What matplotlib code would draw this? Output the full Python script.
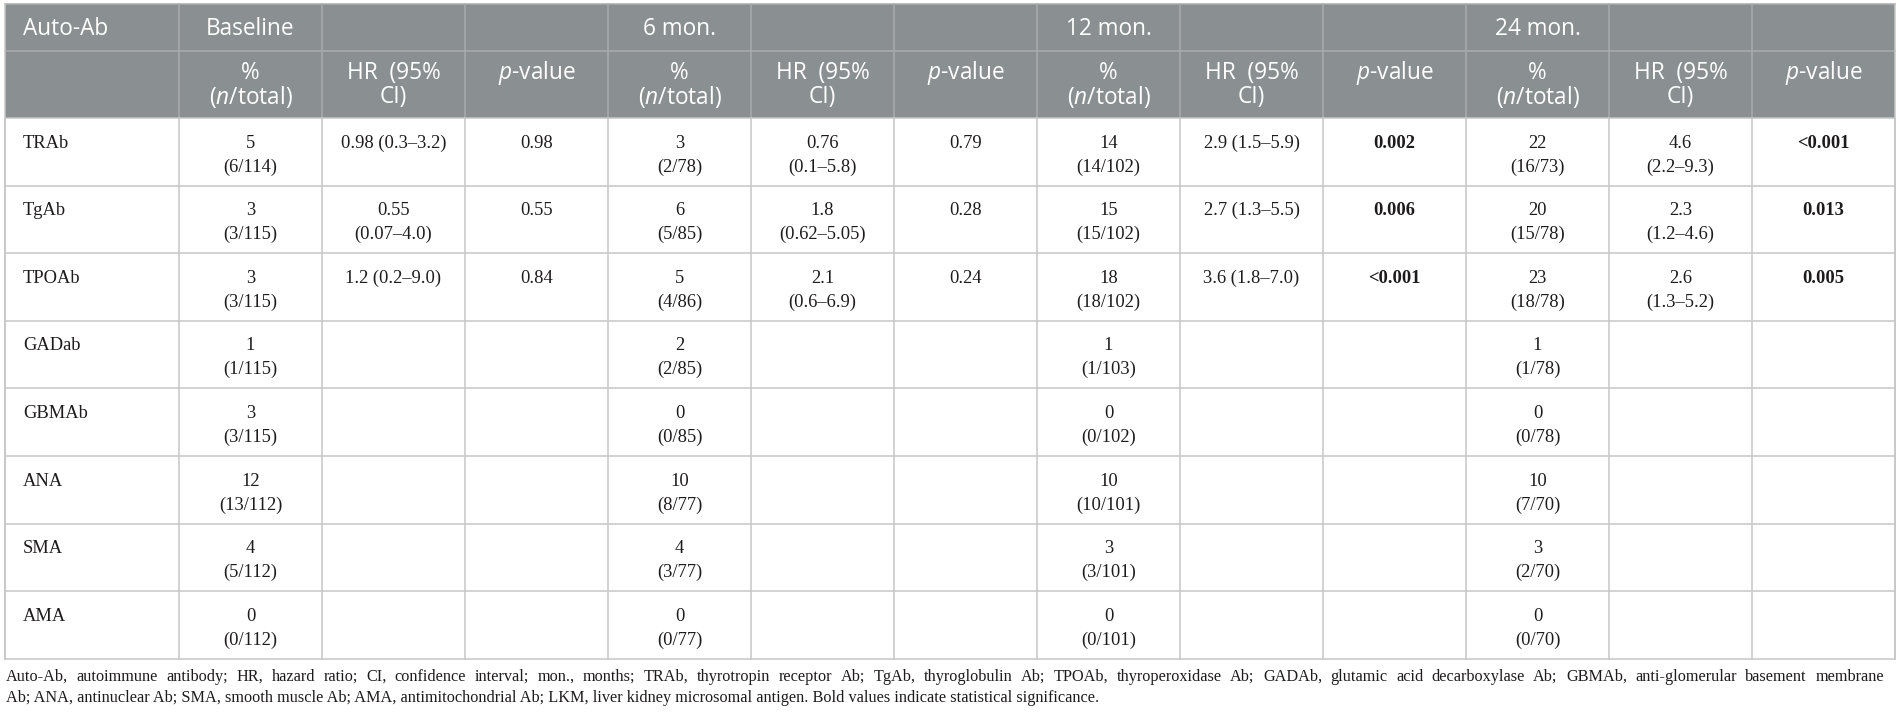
import matplotlib.pyplot as plt
from matplotlib.patches import Rectangle

antibodies = ['TRAb', 'TgAb', 'TPOAb', 'GADab', 'GBMAb', 'ANA', 'SMA', 'AMA']
timepoints = ['Baseline', '6 mon.', '12 mon.', '24 mon.']

pct_base = ['5\n(6/114)', '3\n(3/115)', '3\n(3/115)', '1\n(1/115)', '3\n(3/115)',
            '12\n(13/112)', '4\n(5/112)', '0\n(0/112)']
pct_6 = ['3\n(2/78)', '6\n(5/85)', '5\n(4/86)', '2\n(2/85)', '0\n(0/85)',
         '10\n(8/77)', '4\n(3/77)', '0\n(0/77)']
pct_12 = ['14\n(14/102)', '15\n(15/102)', '18\n(18/102)', '1\n(1/103)', '0\n(0/102)',
          '10\n(10/101)', '3\n(3/101)', '0\n(0/101)']
pct_24 = ['22\n(16/73)', '20\n(15/78)', '23\n(18/78)', '1\n(1/78)', '0\n(0/78)',
          '10\n(7/70)', '3\n(2/70)', '0\n(0/70)']

hr_base = ['0.98 (0.3–3.2)', '0.55\n(0.07–4.0)', '1.2 (0.2–9.0)']
hr_6 = ['0.76\n(0.1–5.8)', '1.8\n(0.62–5.05)', '2.1\n(0.6–6.9)']
hr_12 = ['2.9 (1.5–5.9)', '2.7 (1.3–5.5)', '3.6 (1.8–7.0)']
hr_24 = ['4.6\n(2.2–9.3)', '2.3\n(1.2–4.6)', '2.6\n(1.3–5.2)']

p_base = ['0.98', '0.55', '0.84']
p_6 = ['0.79', '0.28', '0.24']
p_12 = ['0.002', '0.006', '<0.001']
p_24 = ['<0.001', '0.013', '0.005']
p_bold = [False, False, True, True]

footnote = [
    'Auto-Ab, autoimmune antibody; HR, hazard ratio; CI, confidence interval; mon., months; '
    'TRAb, thyrotropin receptor Ab; TgAb, thyroglobulin Ab; TPOAb, thyroperoxidase Ab; '
    'GADAb, glutamic acid decarboxylase Ab; GBMAb, anti-glomerular basement membrane',
    'Ab; ANA, antinuclear Ab; SMA, smooth muscle Ab; AMA, antimitochondrial Ab; '
    'LKM, liver kidney microsomal antigen. Bold values indicate statistical significance.',
]

plt.rcParams['mathtext.fontset'] = 'custom'
plt.rcParams['mathtext.rm'] = 'Open Sans'
plt.rcParams['mathtext.it'] = 'Open Sans:italic'

SANS = 'Open Sans'
SERIF = 'Liberation Serif'
HEAD_BG = '#8a8f92'
HEAD_LINE = '#a9adaf'
GRID = '#c6c6c6'
TXT = '#1e1b1c'

fig = plt.figure(figsize=(19, 7.17), dpi=100)
ax = fig.add_axes([0, 0, 1, 1])
ax.set_xlim(0, 1900)
ax.set_ylim(717, 0)
ax.axis('off')

x0, w0, w = 5, 174, 143
edges = [x0, x0 + w0] + [x0 + w0 + w * (i + 1) for i in range(12)]
top, sep, hbot, rh = 4, 51, 118, 67.6
nrows = len(antibodies)
bot = hbot + rh * nrows

def cx(i):
    return (edges[i] + edges[i + 1]) / 2

# header block
ax.add_patch(Rectangle((edges[0], top), edges[-1] - edges[0], hbot - top,
                       facecolor=HEAD_BG, edgecolor='none'))
for xe in edges[1:-1]:
    ax.plot([xe, xe], [top, hbot], color=HEAD_LINE, lw=1.1)
ax.plot([edges[0], edges[-1]], [sep, sep], color=HEAD_LINE, lw=1.1)
ax.plot([edges[0], edges[-1]], [top, top], color=HEAD_LINE, lw=1.1)

hs = 16.3
def htext(x, y, s, ha='center'):
    ax.text(x, y, s, color='white', fontsize=hs, family=SANS, va='center', ha=ha)

htext(23, 29, 'Auto-Ab', ha='left')
for k, t in enumerate(timepoints):
    c = 1 + 3 * k
    htext(cx(c), 29, t)
    htext(cx(c), 73, '%')
    htext(cx(c), 97, r'($n$/total)')
    htext(cx(c + 1), 73, 'HR  (95%')
    htext(cx(c + 1), 97, 'CI)')
    htext(cx(c + 2), 73, r'$p$-value')

# body grid
for r in range(nrows + 1):
    y = hbot + rh * r
    ax.plot([edges[0], edges[-1]], [y, y], color=GRID, lw=1.1)
for xe in edges:
    ax.plot([xe, xe], [hbot, bot], color=GRID, lw=1.1)
ax.plot([edges[0], edges[0]], [top, bot], color=GRID, lw=1.1)
ax.plot([edges[-1], edges[-1]], [top, bot], color=GRID, lw=1.1)

ds = 13.3
def cell(xc, ytop, s, ha='center', bold=False):
    for j, line in enumerate(s.split('\n')):
        ax.text(xc, ytop + 25 + 24 * j, line, fontsize=ds, family=SERIF, color=TXT,
                ha=ha, va='center', fontweight='bold' if bold else 'normal')

pcts = [pct_base, pct_6, pct_12, pct_24]
hrs = [hr_base, hr_6, hr_12, hr_24]
ps = [p_base, p_6, p_12, p_24]
for r, name in enumerate(antibodies):
    yt = hbot + rh * r
    cell(23, yt, name, ha='left')
    for k in range(4):
        c = 1 + 3 * k
        cell(cx(c), yt, pcts[k][r])
        if r < len(hrs[k]):
            cell(cx(c + 1), yt, hrs[k][r])
            cell(cx(c + 2), yt, ps[k][r], bold=p_bold[k])

# footnote, first line justified to the table width
fs = 11.7
renderer = fig.canvas.get_renderer()
words = footnote[0].split(' ')
widths = []
for wd in words:
    t = ax.text(0, 0, wd, fontsize=fs, family=SERIF)
    widths.append(t.get_window_extent(renderer).width)
    t.remove()
left, right = 6, 1884
gap = (right - left - sum(widths)) / (len(words) - 1)
xpos = left
for wd, wdt in zip(words, widths):
    ax.text(xpos, 677, wd, fontsize=fs, family=SERIF, color=TXT, ha='left', va='center')
    xpos += wdt + gap
ax.text(left, 698, footnote[1], fontsize=fs, family=SERIF, color=TXT,
        ha='left', va='center')

fig.savefig('out.png', dpi=100)
